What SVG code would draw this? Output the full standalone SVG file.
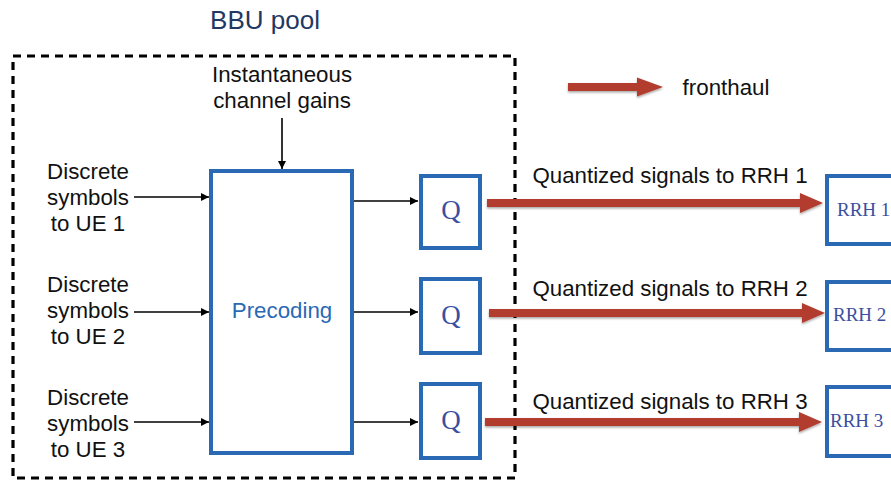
<svg xmlns="http://www.w3.org/2000/svg" width="891" height="480" viewBox="0 0 891 480">
<defs>
<marker id="ah" viewBox="0 0 10 10" refX="10" refY="5" markerWidth="8" markerHeight="8" markerUnits="userSpaceOnUse" orient="auto"><path d="M0,0 L10,5 L0,10 z" fill="#000"/></marker>
<filter id="sh" x="-5%" y="-50%" width="110%" height="200%"><feDropShadow dx="0" dy="1.5" stdDeviation="1.2" flood-color="#000" flood-opacity="0.35"/></filter>
</defs>
<style>
.t{font-family:"Liberation Sans",Arial,sans-serif;font-size:22.3px;fill:#111;text-anchor:middle}
.box{fill:#fff;stroke:#2a69b4;stroke-width:4}
.ser{font-family:"Liberation Serif","Times New Roman",serif;fill:#3b4f9f}
.bl{stroke:#000;stroke-width:1.6;fill:none;marker-end:url(#ah)}
.red{fill:#b23d2f;filter:url(#sh)}
</style>
<rect width="891" height="480" fill="#fff"/>
<g id="bbu-pool">
<rect x="13" y="56" width="502" height="422" fill="none" stroke="#000" stroke-width="3.2" stroke-dasharray="8,6"/>
<text x="265" y="29" class="t" style="font-size:26px;fill:#1f3864">BBU pool</text>
</g>
<g id="legend">
<path class="red" d="M568,83 L637,83 L637,77.5 L663,87 L637,96.5 L637,91 L568,91 z"/>
<text x="726" y="95" class="t">fronthaul</text>
</g>
<g id="channel-gains">
<text x="282" y="82" class="t">Instantaneous</text>
<text x="282" y="108" class="t">channel gains</text>
</g>
<g id="input1">
<text x="88" y="179" class="t">Discrete</text>
<text x="88" y="205" class="t">symbols</text>
<text x="88" y="231" class="t">to UE 1</text>
</g>
<g id="input2">
<text x="88" y="292" class="t">Discrete</text>
<text x="88" y="318" class="t">symbols</text>
<text x="88" y="344" class="t">to UE 2</text>
</g>
<g id="input3">
<text x="88" y="405" class="t">Discrete</text>
<text x="88" y="431" class="t">symbols</text>
<text x="88" y="457" class="t">to UE 3</text>
</g>
<g id="precoding">
<rect class="box" x="211" y="171" width="141" height="282"/>
<text x="282" y="318" class="t" style="fill:#2a69b4">Precoding</text>
</g>
<g id="q1">
<rect class="box" x="421" y="176" width="59" height="72"/>
<text x="451" y="219" class="ser" style="font-size:27px" text-anchor="middle">Q</text>
</g>
<g id="q2">
<rect class="box" x="421" y="279" width="59" height="74"/>
<text x="451" y="324" class="ser" style="font-size:27px" text-anchor="middle">Q</text>
</g>
<g id="q3">
<rect class="box" x="421" y="384" width="59" height="74"/>
<text x="451" y="429" class="ser" style="font-size:27px" text-anchor="middle">Q</text>
</g>
<g id="rrh1">
<rect class="box" x="827" y="176" width="80" height="68"/>
<text x="837" y="216" class="ser" style="font-size:19px">RRH 1</text>
</g>
<g id="rrh2">
<rect class="box" x="827" y="282" width="80" height="68"/>
<text x="833" y="321" class="ser" style="font-size:19px">RRH 2</text>
</g>
<g id="rrh3">
<rect class="box" x="827" y="387" width="80" height="69"/>
<text x="830" y="427" class="ser" style="font-size:19px">RRH 3</text>
</g>
<g id="connectors">
<line class="bl" x1="282" y1="118" x2="282" y2="169"/>
<line class="bl" x1="134" y1="197" x2="209" y2="197"/>
<line class="bl" x1="134" y1="312" x2="209" y2="312"/>
<line class="bl" x1="134" y1="422" x2="209" y2="422"/>
<line class="bl" x1="354" y1="201" x2="418" y2="201"/>
<line class="bl" x1="354" y1="312" x2="418" y2="312"/>
<line class="bl" x1="354" y1="422" x2="418" y2="422"/>
<path class="red" d="M487,199 L800,199 L800,193 L823,203 L800,213 L800,207 L487,207 z"/>
<path class="red" d="M489,309 L802,309 L802,303 L825,313 L802,323 L802,317 L489,317 z"/>
<path class="red" d="M485,418 L799,418 L799,412 L822,422 L799,432 L799,426 L485,426 z"/>
<text x="670" y="183" class="t">Quantized signals to RRH 1</text>
<text x="670" y="296" class="t">Quantized signals to RRH 2</text>
<text x="670" y="409" class="t">Quantized signals to RRH 3</text>
</g>
</svg>
